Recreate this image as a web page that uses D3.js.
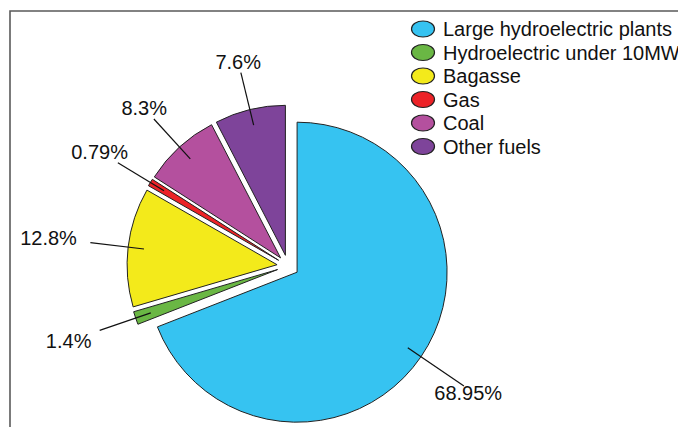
<!DOCTYPE html>
<html>
<head>
<meta charset="utf-8">
<script src="https://cdn.jsdelivr.net/npm/d3@7"></script>
<style>
body { margin: 0; background: #fff; }
svg { display: block; font-family: "Liberation Sans", Arial, sans-serif; }
</style>
</head>
<body>
<svg id="chart" width="678" height="427"></svg>
<script>
// shares of generation
var sources = ["Large hydroelectric plants", "Hydroelectric under 10MW", "Bagasse", "Gas", "Coal", "Other fuels"];
var shares = [68.95, 1.4, 12.8, 0.79, 8.3, 7.6];
var shareLabels = ["68.95%", "1.4%", "12.8%", "0.79%", "8.3%", "7.6%"];
var colours = ["#36c3f1", "#6ab744", "#f3ea1b", "#ec2227", "#b4509e", "#7e449a"];

var svg = d3.select("#chart");
var W = 678, H = 427;
var cx = 288, cy = 266, R = 150, explode = 11;

// frame (only top and left visible in the crop)
svg.append("path")
	.attr("d", "M10," + H + "V11H" + W)
	.attr("fill", "none")
	.attr("stroke", "#5a5a5a")
	.attr("stroke-width", 1.6);

var pie = d3.pie().sort(null).value(function(d){ return d; });
var arcs = pie(shares);
var arc = d3.arc().innerRadius(0).outerRadius(R);

function midAngle(d){ return (d.startAngle + d.endAngle) / 2; }
function polar(a, r){ return [Math.sin(a) * r, -Math.cos(a) * r]; }
function lowerRight(d){ return Math.cos(midAngle(d)) < 0 && Math.sin(midAngle(d)) > 0; }

var g = svg.append("g").attr("transform", "translate(" + cx + "," + cy + ")");

var slices = g.selectAll(".slice")
	.data(arcs)
	.enter()
	.append("g")
	.attr("class", "slice")
	.attr("transform", function(d){
		var p = polar(midAngle(d), explode);
		return "translate(" + p[0] + "," + p[1] + ")";
	});

slices.append("path")
	.attr("d", arc)
	.attr("fill", function(d, i){ return colours[i]; })
	.attr("stroke", "#222")
	.attr("stroke-width", 1);

// leader lines (the lower right one reaches a little further)
var rIn = 134;
function rOut(d){ return lowerRight(d) ? 202 : 188; }
slices.append("line")
	.attr("x1", function(d){ return polar(midAngle(d), rIn)[0]; })
	.attr("y1", function(d){ return polar(midAngle(d), rIn)[1]; })
	.attr("x2", function(d){ return polar(midAngle(d), rOut(d))[0]; })
	.attr("y2", function(d){ return polar(midAngle(d), rOut(d))[1]; })
	.attr("stroke", "#111")
	.attr("stroke-width", 1.2);

// value labels, pushed out so the box clears the leader end
slices.append("text")
	.attr("font-size", 20)
	.attr("fill", "#111")
	.attr("text-anchor", "middle")
	.attr("dominant-baseline", "central")
	.text(function(d, i){ return shareLabels[i]; })
	.each(function(d){
		var a = midAngle(d);
		var w = this.getComputedTextLength(), h = 14;
		var s = Math.abs(Math.sin(a)), c = Math.abs(Math.cos(a));
		var reach = Math.min(s > 0.01 ? (w / 2) / s : 1e9, c > 0.01 ? (h / 2) / c : 1e9);
		var gap = 4 + 10 * Math.pow(s, 6);
		var r = lowerRight(d) ? rOut(d) + reach : rOut(d) + gap + reach;
		var p = polar(a, r);
		var dx = lowerRight(d) ? -6 : 0;
		d3.select(this).attr("x", p[0] + dx).attr("y", p[1]);
	});

// legend
var legend = svg.append("g").attr("transform", "translate(423,29)");
var rows = legend.selectAll(".row")
	.data(sources)
	.enter()
	.append("g")
	.attr("class", "row")
	.attr("transform", function(d, i){ return "translate(0," + (i * 23.5) + ")"; });

rows.append("ellipse")
	.attr("rx", 11.5)
	.attr("ry", 8)
	.attr("fill", function(d, i){ return colours[i]; })
	.attr("stroke", "#222")
	.attr("stroke-width", 1.2);

rows.append("text")
	.attr("x", 20)
	.attr("y", 0)
	.attr("dominant-baseline", "central")
	.attr("font-size", 20)
	.attr("fill", "#111")
	.text(function(d){ return d; });
</script>
</body>
</html>
